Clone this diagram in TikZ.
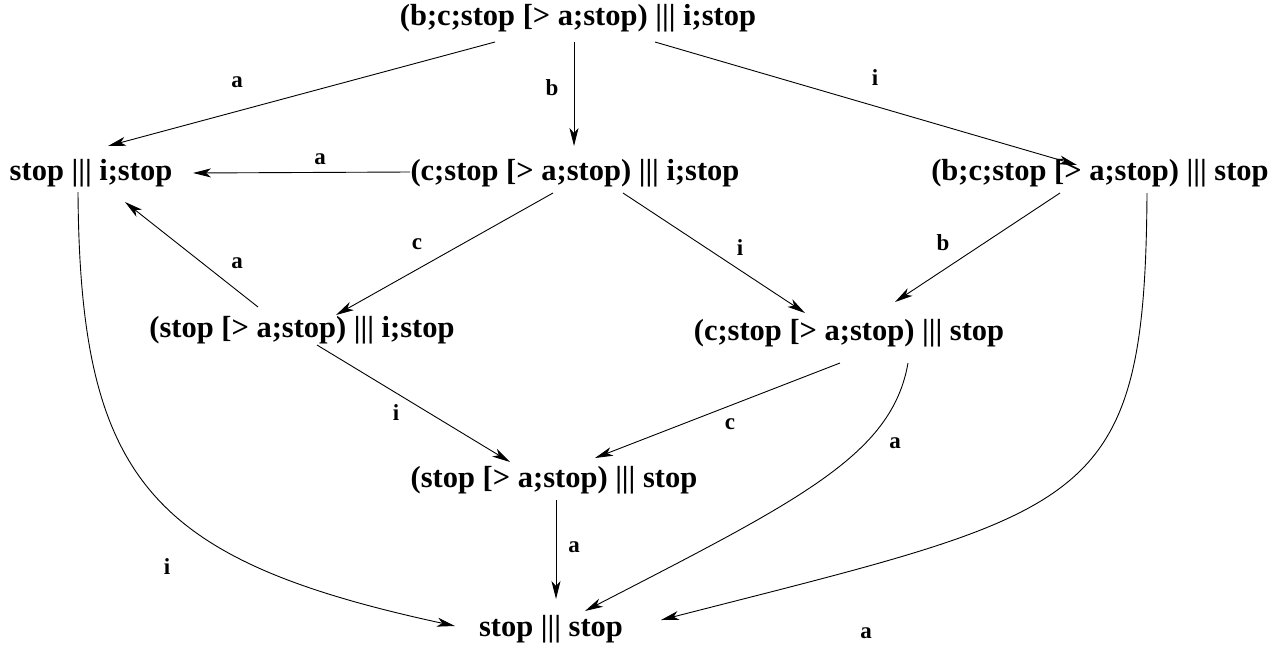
\documentclass[tikz,border=0pt]{standalone}
\usepackage{fontspec}
\setmainfont{Liberation Serif}
\usetikzlibrary{arrows.meta}
\begin{document}
\begin{tikzpicture}[x=1pt,y=-1pt,
  state/.style={inner sep=0pt,font=\fontsize{30.5}{36}\selectfont\bfseries},
  lbl/.style={inner sep=0pt,font=\fontsize{23}{27}\selectfont\bfseries},
  edge/.style={line width=0.9pt,-{Stealth[length=18pt,width=9pt,inset=5pt]}},
  curve/.style={line width=0.9pt,-{Stealth[length=18pt,width=9pt,inset=5pt]}}]
\useasboundingbox (0,0) rectangle (1277,651);
\node[state] (T)  at (578,18)  {(b;c;stop [> a;stop) ||| i;stop};
\node[state] (L1) at (91,173)  {stop ||| i;stop};
\node[state] (M1) at (575,173) {(c;stop [> a;stop) ||| i;stop};
\node[state] (R1) at (1100,173) {(b;c;stop [> a;stop) ||| stop};
\node[state] (L2) at (302,330) {(stop [> a;stop) ||| i;stop};
\node[state] (R2) at (849,333) {(c;stop [> a;stop) ||| stop};
\node[state] (M3) at (554,480) {(stop [> a;stop) ||| stop};
\node[state] (B)  at (551,629) {stop ||| stop};

\draw[edge] ([shift={(-83,24)}]T.center) -- ([shift={(17,-27)}]L1.center);
\draw[edge] ([shift={(-4,24)}]T.center) -- ([shift={(-1,-27)}]M1.center);
\draw[edge] ([shift={(77,24)}]T.center) -- ([shift={(-23,-8)}]R1.center);
\draw[edge] ([shift={(-165,-1)}]M1.center) -- ([shift={(102,0)}]L1.center);
\draw[edge] ([shift={(-22,20)}]M1.center) -- ([shift={(34,-15)}]L2.center);
\draw[edge] ([shift={(48,20)}]M1.center) -- ([shift={(-44,-20)}]R2.center);
\draw[edge] ([shift={(-40,20)}]R1.center) -- ([shift={(46,-31)}]R2.center);
\draw[edge] ([shift={(-44,-23)}]L2.center) -- ([shift={(34,29)}]L1.center);
\draw[edge] ([shift={(15,15)}]L2.center) -- ([shift={(-44,-18)}]M3.center);
\draw[edge] ([shift={(-9,30)}]R2.center) -- ([shift={(41,-22)}]M3.center);
\draw[edge] ([shift={(2,20)}]M3.center) -- ([shift={(5,-30)}]B.center);
\draw[curve] ([shift={(59,30)}]R2.center) .. controls (892,455) and (800,500) .. ([shift={(34,-18)}]B.center);
\draw[curve] ([shift={(47,20)}]R1.center) .. controls (1145,510) and (1090,510) .. ([shift={(110,-9)}]B.center);
\draw[curve] ([shift={(-13,19)}]L1.center) .. controls (80,480) and (150,560) .. ([shift={(-96,-3)}]B.center);

\node[lbl] (la1) at (237,82) {a};
\node[lbl] (lb1) at (552,88) {b};
\node[lbl] (li1) at (875,78) {i};
\node[lbl] (la2) at (320,159) {a};
\node[lbl] (lc1) at (417,244) {c};
\node[lbl] (li2) at (740,248) {i};
\node[lbl] (lb2) at (943,243) {b};
\node[lbl] (la3) at (237,263) {a};
\node[lbl] (li3) at (396,413) {i};
\node[lbl] (lc2) at (730,424) {c};
\node[lbl] (la4) at (574,547) {a};
\node[lbl] (la5) at (895,443) {a};
\node[lbl] (la6) at (866,633) {a};
\node[lbl] (li4) at (167,567) {i};
\end{tikzpicture}
\end{document}
